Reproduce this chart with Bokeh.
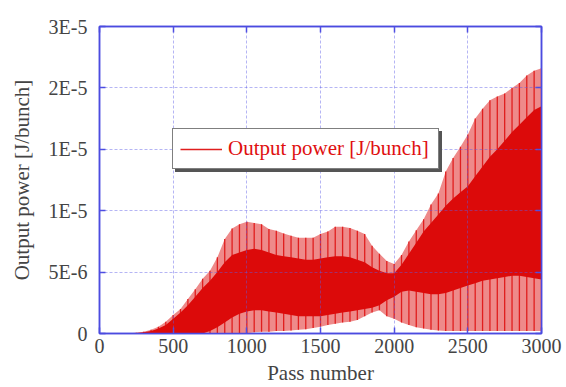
from bokeh.plotting import figure
from bokeh.models import (FixedTicker, Legend, LegendItem, LinearAxis, Range1d,
                          CustomJSTickFormatter)
from bokeh.embed import file_html
from bokeh.resources import INLINE

# Pass numbers at which the signal envelope is sampled
passes = [0, 50, 100, 150, 200, 250, 300, 350, 400, 450,
          500, 550, 600, 650, 700, 750, 800, 850, 900, 950,
          1000, 1050, 1100, 1150, 1200, 1250, 1300, 1350, 1400, 1450,
          1500, 1550, 1600, 1650, 1700, 1750, 1800, 1850, 1900, 1950,
          2000, 2050, 2100, 2150, 2200, 2250, 2300, 2350, 2400, 2450,
          2500, 2550, 2600, 2650, 2700, 2750, 2800, 2850, 2900, 2950, 3000]

# Output power envelopes, in units of 1E-6 J/bunch
peak_max = [0, 0, 0, 0, 0.02, 0.06, 0.14, 0.3, 0.54, 0.95,
            1.5, 2.0, 2.8, 3.6, 4.45, 5.1, 6.2, 7.7, 8.55, 8.9,
            9.1, 9.0, 8.9, 8.5, 8.36, 8.15, 7.95, 7.8, 7.8, 7.8,
            8.1, 8.3, 8.7, 8.7, 8.6, 8.36, 8.1, 7.15, 6.5, 5.9,
            5.66, 6.4, 7.5, 8.4, 9.3, 10.5, 11.4, 13.2, 14.3, 15.2,
            16.2, 17.5, 18.3, 19.0, 19.3, 19.55, 20.0, 20.4, 21.0, 21.4, 21.6]
core_top = [0, 0, 0, 0, 0, 0.04, 0.1, 0.2, 0.4, 0.7,
            1.2, 1.7, 2.3, 3.0, 3.7, 4.3, 5.0, 5.8, 6.4, 6.6,
            6.8, 6.9, 6.8, 6.6, 6.4, 6.3, 6.2, 6.1, 6.0, 6.0,
            6.1, 6.2, 6.3, 6.3, 6.2, 6.0, 5.8, 5.4, 5.1, 4.9,
            4.9, 5.6, 6.5, 7.4, 8.3, 9.0, 9.7, 10.4, 11.0, 11.5,
            12.0, 12.8, 13.6, 14.4, 15.0, 15.7, 16.4, 17.0, 17.6, 18.2, 18.5]
core_bottom = [0, 0, 0, 0, 0, 0, 0, 0, 0, 0,
               0, 0, 0, 0, 0, 0.2, 0.5, 0.9, 1.3, 1.6,
               1.8, 1.9, 1.9, 1.8, 1.7, 1.6, 1.5, 1.4, 1.4, 1.4,
               1.4, 1.5, 1.6, 1.7, 1.8, 1.9, 2.0, 2.1, 2.3, 2.7,
               3.0, 3.4, 3.5, 3.4, 3.3, 3.2, 3.2, 3.3, 3.5, 3.7,
               3.9, 4.1, 4.3, 4.4, 4.5, 4.6, 4.7, 4.7, 4.6, 4.5, 4.4]
trough_min = [0, 0, 0, 0, 0, 0, 0, 0, 0, 0,
              0, 0, 0, 0, 0, 0, 0, 0, 0, 0,
              0, 0.1, 0.15, 0.15, 0.2, 0.2, 0.25, 0.3, 0.35, 0.45,
              0.55, 0.7, 0.8, 0.9, 0.95, 1.1, 1.4, 1.7, 1.9, 1.4,
              1.2, 0.9, 0.7, 0.5, 0.4, 0.3, 0.25, 0.2, 0.2, 0.2,
              0.2, 0.2, 0.2, 0.2, 0.2, 0.2, 0.2, 0.2, 0.2, 0.2, 0.2]

x_ticks = [0, 500, 1000, 1500, 2000, 2500, 3000]
y_ticks = [0, 5, 10, 15, 20, 25]
y_tick_labels = ["0", "5E-6", "1E-5", "1E-5", "2E-5", "3E-5"]

series_label = "Output power [J/bunch]"

SERIF = "Liberation Serif"
FRAME_BLUE = "#4b4be0"
RED = "#dc0a0a"

p = figure(width=566, height=387, output_backend="svg", toolbar_location=None,
           x_range=Range1d(0, 3000), y_range=Range1d(0, 25),
           min_border_left=99, min_border_right=25,
           min_border_top=26, min_border_bottom=52)
p.title.text_font = SERIF
p.background_fill_color = "white"
p.border_fill_color = "white"
p.outline_line_color = FRAME_BLUE
p.outline_line_width = 1.5

# Oscillating output power: pale band for the full swing, vertical strokes
# at every sample, solid red where the strokes overlap
p.varea(x=passes, y1=trough_min, y2=peak_max, fill_color="#ee8a8a")
strokes = p.segment(x0=passes, y0=trough_min, x1=passes, y1=peak_max,
                    line_color="#e01e1e", line_width=1.3)
p.varea(x=passes, y1=core_bottom, y2=core_top, fill_color=RED)

# Axes
for ax in (p.xaxis[0], p.yaxis[0]):
    ax.axis_line_color = FRAME_BLUE
    ax.axis_line_width = 1.5
    ax.major_tick_line_color = FRAME_BLUE
    ax.major_tick_line_width = 1.5
    ax.major_tick_in = 6
    ax.major_tick_out = 0
    ax.minor_tick_line_color = None
    ax.major_label_text_font = SERIF
    ax.major_label_text_font_size = "20px"
    ax.axis_label_text_font = SERIF
    ax.axis_label_text_font_size = "21px"
    ax.axis_label_text_font_style = "normal"

p.xaxis.ticker = FixedTicker(ticks=x_ticks)
p.yaxis.ticker = FixedTicker(ticks=y_ticks)
p.yaxis.major_label_overrides = dict(zip(y_ticks, y_tick_labels))
p.xaxis.axis_label = "Pass number"
p.yaxis.axis_label = series_label
p.xaxis.major_label_standoff = 5
p.xaxis.axis_label_standoff = 5
p.yaxis.major_label_standoff = 12
p.yaxis.axis_label_standoff = 12

# Mirror ticks on the top and right edges (no labels there)
for side, ticks in (("right", y_ticks), ("above", x_ticks)):
    ax = LinearAxis(ticker=FixedTicker(ticks=ticks),
                    formatter=CustomJSTickFormatter(code="return ''"),
                    axis_line_color=FRAME_BLUE, axis_line_width=1.5,
                    major_tick_line_color=FRAME_BLUE, major_tick_line_width=1.5,
                    major_tick_in=6, major_tick_out=0,
                    minor_tick_line_color=None,
                    major_label_standoff=0)
    p.add_layout(ax, side)

# Dashed grid drawn over the signal
for g in (p.xgrid[0], p.ygrid[0]):
    g.grid_line_color = "#5a5ae6"
    g.grid_line_alpha = 0.45
    g.grid_line_dash = "3 2"
    g.grid_line_width = 1
    g.level = "guide"

# Legend box with a drop shadow
legend_style = dict(margin=0, padding=7, spacing=0,
                    glyph_width=42, glyph_height=20, label_standoff=6,
                    label_width=203, label_height=25,
                    label_text_font=SERIF, label_text_font_size="21px")

shadow = Legend(items=[LegendItem(label=" ", renderers=[strokes])],
                location=(76, 161),
                border_line_color="#555555", border_line_width=1.5,
                background_fill_color="#555555", background_fill_alpha=1,
                **legend_style)
p.add_layout(shadow, "center")

legend = Legend(items=[LegendItem(label=series_label, renderers=[strokes])],
                location=(73, 164), label_text_color="#e01010",
                border_line_color="black", border_line_width=1.5,
                background_fill_color="white", background_fill_alpha=1,
                **legend_style)
p.add_layout(legend, "center")

open("out.html", "w").write(file_html(p, INLINE))
